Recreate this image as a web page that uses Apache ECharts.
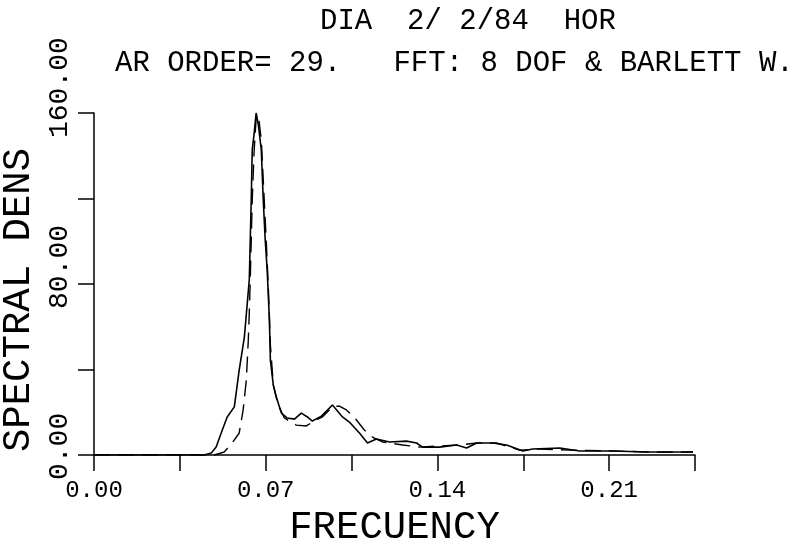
<!DOCTYPE html>
<html>
<head>
<meta charset="utf-8">
<script src="https://cdn.jsdelivr.net/npm/echarts@6/dist/echarts.min.js"></script>
<style>
html,body{margin:0;padding:0;background:#fff;}
#chart{width:801px;height:541px;}
</style>
</head>
<body>
<div id="chart"></div>
<script>
// ---- data ----
var titleText = "DIA  2/ 2/84  HOR";
var subtitleText = "AR ORDER= 29.   FFT: 8 DOF & BARLETT W.";
var xAxisName = "FRECUENCY";
var yAxisName = "SPECTRAL DENS";

// solid curve (AR spectrum)
var arFreq = [0, 0.0449, 0.0478, 0.0498, 0.0523, 0.0543, 0.0572, 0.0592, 0.0613, 0.0633, 0.0641, 0.0645, 0.0653, 0.0661,
  0.0670, 0.0682, 0.0690, 0.0698, 0.0706, 0.0715, 0.0719, 0.0731, 0.0743, 0.0764, 0.0788, 0.0817, 0.0845, 0.0870, 0.0890,
  0.0927, 0.0972, 0.1013, 0.1041, 0.1082, 0.1115, 0.1151, 0.1205, 0.1274, 0.1315, 0.1339, 0.1409, 0.1478, 0.1519, 0.1560,
  0.1625, 0.1682, 0.1748, 0.1788, 0.1899, 0.1980, 0.2115, 0.2254, 0.2442];
var arVal = [0, 0, 0.9, 3.7, 11.7, 17.8, 22.5, 39.8, 55.2, 81.9, 119.3, 142.7, 150.6, 160,
  154.4, 142.7, 119.3, 100.6, 86.5, 63.2, 44.4, 32.7, 27.1, 19.6, 17.3, 16.8, 19.6, 17.8, 15.9,
  18.2, 23.4, 17.8, 15.4, 10.3, 5.6, 7.5, 6.1, 6.5, 5.6, 3.7, 3.7, 4.7, 3.3, 5.6,
  5.6, 4.7, 1.9, 2.8, 3.3, 1.9, 1.9, 1.4, 1.4];

// dashed curve (FFT spectrum)
var fftFreq = [0, 0.0490, 0.0531, 0.0563, 0.0592, 0.0608, 0.0621, 0.0629, 0.0633, 0.0637, 0.0645, 0.0653, 0.0661, 0.0670,
  0.0682, 0.0690, 0.0702, 0.0711, 0.0719, 0.0731, 0.0751, 0.0776, 0.0825, 0.0866, 0.0890, 0.0931, 0.0972, 0.1000, 0.1029,
  0.1070, 0.1102, 0.1135, 0.1176, 0.1258, 0.1327, 0.1409, 0.1490, 0.1560, 0.1641, 0.1735, 0.1817, 0.1940, 0.2103, 0.2266, 0.2442];
var fftVal = [0, 0, 1.4, 5.6, 10.3, 21.1, 35.1, 53.8, 66.4, 81.9, 119.3, 142.7, 157.6, 159,
  147.4, 128.6, 100.6, 77.2, 51.5, 32.7, 23.4, 17.3, 14.0, 13.6, 15.4, 17.8, 22.5, 22.9, 21.1,
  16.4, 11.7, 8.4, 6.1, 4.7, 3.7, 4.2, 4.7, 5.6, 5.6, 2.3, 2.8, 2.3, 1.9, 1.4, 1.4];

// axes
var xMin = 0, xMax = 0.245, xStep = 0.035;
var xTickLabels = ["0.00", "0.07", "0.14", "0.21"];
var yMin = 0, yMax = 160, yStep = 40;
var yLabelValues = [0, 80, 160];
var yTickLabels = ["0.00", "80.00", "160.00"];

// ---- build ----
function pairs(fs, vs) { var out = []; for (var i = 0; i < fs.length; i++) out.push([fs[i], vs[i]]); return out; }

var FONT = "Liberation Mono";
var yFontSize = 28, yCharW = yFontSize * 0.6;
var yRich = { v: { fontFamily: FONT, fontSize: yFontSize, color: '#000' } };
yTickLabels.forEach(function (t, i) {
  var L = t.length * yCharW;
  yRich['p' + i] = { width: Math.max(0, L - 50), fontSize: yFontSize, fontFamily: FONT };
});

var chart = echarts.init(document.getElementById('chart'), null, { renderer: 'canvas' });
chart.setOption({
  animation: false,
  backgroundColor: '#fff',
  title: [
    { text: titleText, left: 315, top: 2, textStyle: { fontFamily: FONT, fontSize: 29, fontWeight: 'normal', color: '#000' } },
    { text: subtitleText, left: 110, top: 44, textStyle: { fontFamily: FONT, fontSize: 29, fontWeight: 'normal', color: '#000' } }
  ],
  grid: { left: 94, right: 106, top: 113, bottom: 86, containLabel: false, outerBoundsMode: 'none' },
  xAxis: {
    type: 'value', min: xMin, max: xMax, interval: xStep,
    name: xAxisName, nameLocation: 'middle', nameGap: 50,
    nameTextStyle: { fontFamily: FONT, fontSize: 39, color: '#000' },
    axisLine: { show: true, onZero: false, lineStyle: { color: '#000', width: 1.5 } },
    axisTick: { show: true, inside: false, length: 16, lineStyle: { color: '#000', width: 1.5 } },
    splitLine: { show: false },
    axisLabel: {
      margin: 24, fontFamily: FONT, fontSize: 24, color: '#000',
      formatter: function (v) {
        var k = Math.round(v / xStep);
        return (k % 2 === 0 && k / 2 < xTickLabels.length) ? xTickLabels[k / 2] : '';
      }
    }
  },
  yAxis: {
    type: 'value', min: yMin, max: yMax, interval: yStep,
    name: yAxisName, nameLocation: 'middle', nameGap: 52,
    nameTextStyle: { fontFamily: FONT, fontSize: 39, color: '#000', padding: [0, 32, 0, 0] },
    axisLine: { show: true, onZero: false, lineStyle: { color: '#000', width: 1.5 } },
    axisTick: { show: true, inside: false, length: 16, lineStyle: { color: '#000', width: 1.5 } },
    splitLine: { show: false },
    axisLabel: {
      rotate: 90, margin: 20, align: 'center', verticalAlign: 'bottom',
      formatter: function (v) {
        var i = yLabelValues.indexOf(Math.round(v));
        return i >= 0 ? '{p' + i + '| }{v|' + yTickLabels[i] + '}' : '';
      },
      rich: yRich
    }
  },
  series: [
    { type: 'line', data: pairs(arFreq, arVal), symbol: 'none', smooth: false,
      lineStyle: { color: '#000', width: 1.6, type: 'solid' } },
    { type: 'line', data: pairs(fftFreq, fftVal), symbol: 'none', smooth: false,
      lineStyle: { color: '#000', width: 1.4, type: [16, 8] } }
  ]
});
</script>
</body>
</html>
